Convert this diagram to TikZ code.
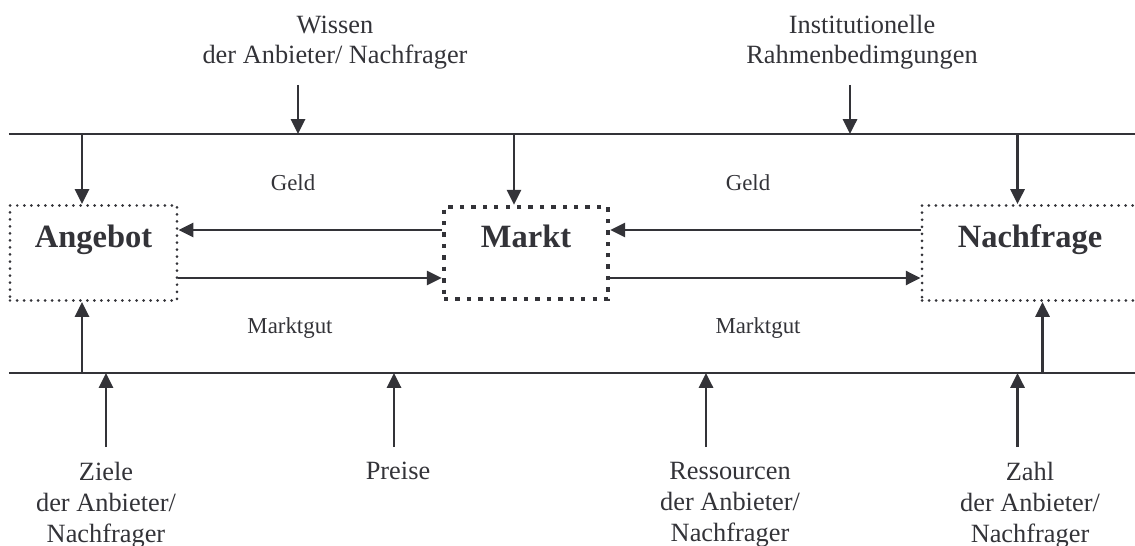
\documentclass[tikz,border=0pt]{standalone}
\usepackage{fontspec}
\setmainfont{Liberation Serif}
\usepackage{tikz}
\usetikzlibrary{arrows.meta, positioning}
\definecolor{inkcolor}{RGB}{51,51,56}

\begin{document}
\begin{tikzpicture}[
    color=inkcolor,
    box/.style={draw, line width=1.7pt, dash pattern=on 0pt off 4pt, line cap=round, minimum width=3.34cm, minimum height=1.9cm, inner sep=0pt, text height=0.45cm, text depth=0.65cm, font=\fontsize{18.5}{21}\selectfont\bfseries},
    marktbox/.style={box, line width=2.6pt, dash pattern=on 2.5pt off 4pt, line cap=butt, minimum width=3.28cm, minimum height=1.84cm},
    factor/.style={align=center, inner xsep=0pt, inner ysep=0.3cm, font=\fontsize{15}{17.6}\selectfont},
    flowlabel/.style={font=\fontsize{13}{15}\selectfont},
    bus/.style={line width=1.4pt},
    flow/.style={-{Triangle[length=8.4pt, width=8pt]}, line width=1.4pt}
]
    \clip (0,0) rectangle (22.7,-10.92);

    % Market parties
    \node[box] (angebot) at (1.87,-5.06) {Angebot};
    \node[marktbox] (markt) at (10.52,-5.06) {Markt};
    \node[box, minimum width=4.32cm] (nachfrage) at (20.6,-5.06) {Nachfrage};

    % Bus lines
    \coordinate (topL) at (0.18,-2.68);
    \coordinate (topR) at (22.7,-2.68);
    \coordinate (botL) at (0.18,-7.46);
    \coordinate (botR) at (22.7,-7.46);
    \draw[bus] (topL) -- (topR);
    \draw[bus] (botL) -- (botR);

    % Taps on the lines
    \coordinate (tapA) at (1.64,-2.68);
    \coordinate (tapM) at (10.28,-2.68);
    \coordinate (tapN) at (20.35,-2.68);
    \coordinate (tapW) at (5.96,-2.68);
    \coordinate (tapI) at (17.0,-2.68);
    \coordinate (baseA) at (1.64,-7.46);
    \coordinate (baseN) at (20.85,-7.46);
    \coordinate (baseZi) at (2.12,-7.46);
    \coordinate (baseP) at (7.88,-7.46);
    \coordinate (baseR) at (14.12,-7.46);
    \coordinate (baseZa) at (20.35,-7.46);

    % Influences
    \node[factor, anchor=south] (wissen) at (6.7,-1.7) {Wissen\\der Anbieter/ Nachfrager};
    \node[factor, anchor=south] (institut) at (17.24,-1.7) {Institutionelle\\Rahmenbedimgungen};
    \node[factor, anchor=north] (ziele) at (2.12,-8.94) {Ziele\\der Anbieter/\\Nachfrager};
    \node[factor, anchor=north] (preise) at (7.96,-8.94) {Preise};
    \node[factor, anchor=north] (ressourcen) at (14.6,-8.94) {Ressourcen\\der Anbieter/\\Nachfrager};
    \node[factor, anchor=north] (zahl) at (20.6,-8.94) {Zahl\\der Anbieter/\\Nachfrager};

    \draw[flow] (tapW |- wissen.south) -- (tapW);
    \draw[flow] (tapI |- institut.south) -- (tapI);
    \draw[flow] (baseZi |- ziele.north) -- (baseZi);
    \draw[flow] (baseP |- preise.north) -- (baseP);
    \draw[flow] (baseR |- ressourcen.north) -- (baseR);
    \draw[flow] (baseZa |- zahl.north) -- (baseZa);

    \draw[flow] (tapA) -- (tapA |- angebot.north);
    \draw[flow] (tapM) -- (tapM |- markt.north);
    \draw[flow] (tapN) -- (tapN |- nachfrage.north);
    \draw[flow] (baseA) -- (baseA |- angebot.south);
    \draw[flow] (baseN) -- (baseN |- nachfrage.south);

    % Flows of money and goods
    \draw[flow] ([yshift=0.46cm]markt.west) -- ([yshift=0.46cm]angebot.east);
    \draw[flow] ([yshift=-0.5cm]angebot.east) -- ([yshift=-0.5cm]markt.west);
    \draw[flow] ([yshift=0.46cm]nachfrage.west) -- ([yshift=0.46cm]markt.east);
    \draw[flow] ([yshift=-0.5cm]markt.east) -- ([yshift=-0.5cm]nachfrage.west);

    \node[flowlabel] (geldA) at (5.86,-3.66) {Geld};
    \node[flowlabel] (geldN) at (14.96,-3.66) {Geld};
    \node[flowlabel] (gutA) at (5.8,-6.56) {Marktgut};
    \node[flowlabel] (gutN) at (15.16,-6.56) {Marktgut};
\end{tikzpicture}
\end{document}
